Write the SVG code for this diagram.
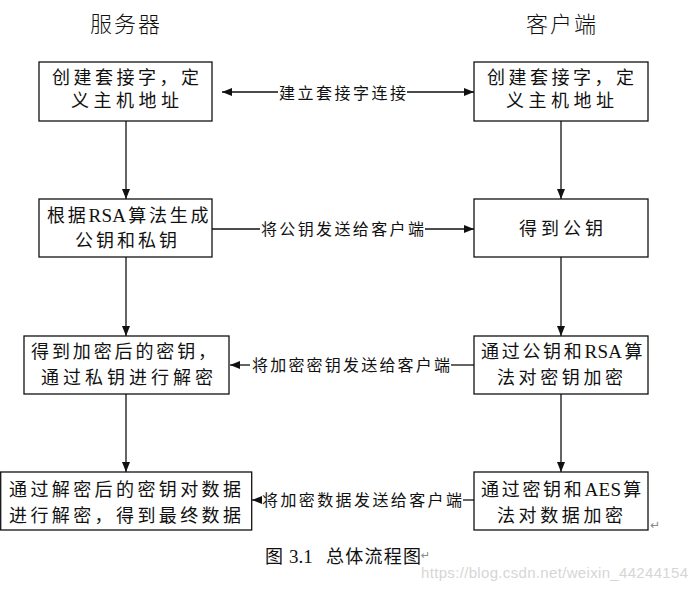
<svg xmlns="http://www.w3.org/2000/svg" width="700" height="589" viewBox="0 0 700 589">
<style>
.box{fill:#fff;stroke:#111;stroke-width:1.3}
.t{font-family:"Liberation Serif","Noto Sans CJK SC",serif;font-size:18px;fill:#111}
.sp{letter-spacing:2.7px}
.lat{letter-spacing:0.3px;font-size:19px}
.lb{font-family:"Liberation Serif","Noto Sans CJK SC",serif;font-size:16px;fill:#111}
.title{font-family:"Liberation Serif","Noto Sans CJK SC",serif;font-size:22px;fill:#111;font-weight:300}
.cap{font-family:"Liberation Serif","Noto Sans CJK SC",serif;font-size:18px;fill:#111}
.ln{stroke:#111;stroke-width:1.3;fill:none}
</style>
<defs>
<marker id="ah" markerUnits="userSpaceOnUse" markerWidth="11" markerHeight="9" refX="10" refY="4" orient="auto-start-reverse">
<path d="M0,0 L10,4 L0,8 z" fill="#111"/>
</marker>
</defs>
<rect width="700" height="589" fill="#fff"/>
<text class="title" x="125" y="32" text-anchor="middle" textLength="70">服务器</text>
<text class="title" x="561" y="32" text-anchor="middle" textLength="70">客户端</text>

<g id="connectors">
<line class="ln" x1="222" y1="92" x2="278" y2="92" marker-start="url(#ah)"/>
<line class="ln" x1="407" y1="92" x2="474" y2="92" marker-end="url(#ah)"/>
<text class="lb" x="279" y="99" textLength="127">建立套接字连接</text>
<line class="ln" x1="126" y1="121" x2="126" y2="199" marker-end="url(#ah)"/>
<line class="ln" x1="561" y1="121" x2="561" y2="199" marker-end="url(#ah)"/>
<line class="ln" x1="212" y1="229" x2="260" y2="229"/>
<line class="ln" x1="425" y1="229" x2="474" y2="229" marker-end="url(#ah)"/>
<text class="lb" x="261" y="235" textLength="163">将公钥发送给客户端</text>
<line class="ln" x1="126" y1="257" x2="126" y2="336" marker-end="url(#ah)"/>
<line class="ln" x1="561" y1="257" x2="561" y2="336" marker-end="url(#ah)"/>
<line class="ln" x1="250" y1="365" x2="230" y2="365" marker-end="url(#ah)"/>
<line class="ln" x1="451" y1="365" x2="474" y2="365"/>
<text class="lb" x="252" y="371" textLength="198">将加密密钥发送给客户端</text>
<line class="ln" x1="126" y1="394" x2="126" y2="472" marker-end="url(#ah)"/>
<line class="ln" x1="561" y1="394" x2="561" y2="472" marker-end="url(#ah)"/>
<line class="ln" x1="262" y1="500" x2="252" y2="500" marker-end="url(#ah)"/>
<line class="ln" x1="463" y1="500" x2="474" y2="500"/>
<text class="lb" x="262" y="506" textLength="200">将加密数据发送给客户端</text>
</g>

<g id="s1">
<rect class="box" x="39" y="62" width="173" height="59"/>
<text class="t" x="52" y="84" textLength="147">创建套接字，定</text>
<text class="t" x="71" y="107" textLength="108">义主机地址</text>
</g>
<g id="c1">
<rect class="box" x="474" y="62" width="174" height="59"/>
<text class="t" x="487" y="84" textLength="147">创建套接字，定</text>
<text class="t" x="506" y="107" textLength="108">义主机地址</text>
</g>
<g id="s2">
<rect class="box" x="39" y="199" width="173" height="58"/>
<text class="t sp" x="47" y="222">根据<tspan class="lat">RSA</tspan><tspan dx="2">算法生成</tspan></text>
<text class="t" x="75" y="247" textLength="102">公钥和私钥</text>
</g>
<g id="c2">
<rect class="box" x="474" y="199" width="174" height="58"/>
<text class="t" x="519" y="235" textLength="84">得到公钥</text>
</g>
<g id="s3">
<rect class="box" x="24" y="336" width="205" height="58"/>
<text class="t" x="31" y="358" textLength="185">得到加密后的密钥，</text>
<text class="t" x="41" y="384" textLength="172">通过私钥进行解密</text>
</g>
<g id="c3">
<rect class="box" x="474" y="336" width="174" height="58"/>
<text class="t sp" x="481" y="358">通过公钥和<tspan class="lat">RSA</tspan><tspan dx="2">算</tspan></text>
<text class="t" x="497" y="384" textLength="126">法对密钥加密</text>
</g>
<g id="s4">
<rect class="box" x="0.7" y="472" width="251" height="58"/>
<text class="t" x="9" y="496" textLength="232">通过解密后的密钥对数据</text>
<text class="t" x="9" y="522" textLength="232">进行解密，得到最终数据</text>
</g>
<g id="c4">
<rect class="box" x="474" y="472" width="174" height="58"/>
<text class="t sp" x="481" y="496">通过密钥和<tspan class="lat">AES</tspan><tspan dx="2">算</tspan></text>
<text class="t" x="497" y="522" textLength="126">法对数据加密</text>
</g>
<text x="650" y="529" font-family="DejaVu Sans,sans-serif" font-size="12" fill="#888">↵</text>

<text class="cap" y="563"><tspan x="265">图</tspan><tspan x="289" font-size="19">3.1</tspan><tspan x="326" textLength="95">总体流程图</tspan></text>
<text x="421" y="559" font-family="DejaVu Sans,sans-serif" font-size="11" fill="#888">↵</text>
<text x="421" y="578" font-family="Liberation Sans,Arial,sans-serif" font-size="15" fill="#d6d6d6" textLength="267">https://blog.csdn.net/weixin_44244154</text>
</svg>
